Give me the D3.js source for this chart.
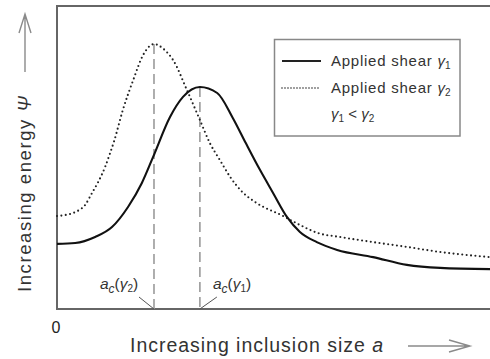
<!DOCTYPE html>
<html>
<head>
<meta charset="utf-8">
<script src="https://cdn.jsdelivr.net/npm/d3@7"></script>
<style>
  html, body { margin: 0; padding: 0; background: #fff; }
  svg { display: block; font-family: "Liberation Sans", Arial, sans-serif; }
</style>
</head>
<body>
<svg id="chart" width="490" height="359"></svg>
<script>
// Inclusion size a (relative units) and energy Ψ (relative units)
const shear1A   = [0, 4.2, 8.8, 12.7, 16.4, 19.6, 22.2, 26.1, 29.1, 33.0, 37.0, 40.6, 43.6, 46.9, 49.9, 53.1, 56.1, 60.0, 64.7, 73.0, 80.8, 88.5, 100];
const shear1Psi = [21.7, 22.0, 24.0, 27.3, 34.0, 42.0, 50.7, 64.0, 70.7, 74.0, 72.0, 63.7, 55.3, 46.3, 38.7, 30.7, 25.7, 22.3, 19.7, 17.3, 14.7, 13.7, 13.3];

const shear2A   = [0, 1.8, 4.2, 6.5, 8.1, 9.5, 11.1, 12.2, 13.2, 15.2, 17.6, 19.9, 22.4, 24.9, 26.8, 30.0, 33.0, 35.3, 37.6, 40.0, 43.0, 45.7, 52.2, 56.1, 60.3, 65.4, 73.0, 80.8, 88.5, 100];
const shear2Psi = [31.0, 31.3, 32.3, 34.7, 38.7, 42.3, 47.3, 51.7, 56.0, 66.3, 76.3, 84.7, 88.3, 86.3, 83.0, 73.0, 63.0, 55.3, 49.7, 44.0, 38.7, 35.7, 31.0, 28.0, 25.3, 24.0, 22.3, 20.7, 19.0, 17.3];

// Critical sizes (peak positions) for each applied shear
const criticalNames = ["γ1", "γ2"];
const criticalA     = [33.0, 22.4];
const criticalPsi   = [74.0, 88.3];

const svg = d3.select("#chart");

const x = d3.scaleLinear().domain([0, 100]).range([57, 490]);
const y = d3.scaleLinear().domain([0, 100]).range([309, 9]);
const yTop = 6;

const ink = "#222";
const frame = "#666";

// Open frame: top, left and bottom edges
svg.append("path")
  .attr("d", d3.line()([[x.range()[1], yTop], [x(0), yTop], [x(0), y(0)], [x.range()[1], y(0)]]))
  .attr("fill", "none").attr("stroke", frame).attr("stroke-width", 2);

// Critical-size markers
criticalA.forEach((a, i) => {
  svg.append("line")
    .attr("x1", x(a)).attr("x2", x(a))
    .attr("y1", y(criticalPsi[i])).attr("y2", y(0))
    .attr("stroke", "#9a9a9a").attr("stroke-width", 1.6)
    .attr("stroke-dasharray", "10,5");
});

const line = d3.line()
  .x(d => x(d[0])).y(d => y(d[1]))
  .curve(d3.curveMonotoneX);

svg.append("path")
  .datum(shear2A.map((a, i) => [a, shear2Psi[i]]))
  .attr("d", line)
  .attr("fill", "none").attr("stroke", ink).attr("stroke-width", 2.1)
  .attr("stroke-linecap", "round").attr("stroke-dasharray", "0,4.4");

svg.append("path")
  .datum(shear1A.map((a, i) => [a, shear1Psi[i]]))
  .attr("d", line)
  .attr("fill", "none").attr("stroke", "#111").attr("stroke-width", 2.1);

// Leader lines and labels for a_c(γ)
const labelOffsets = { "γ2": { tx: -54, lx: -15 }, "γ1": { tx: 13, lx: 17 } };
criticalA.forEach((a, i) => {
  const name = criticalNames[i];
  const off = labelOffsets[name];
  const bx = x(a);
  svg.append("line")
    .attr("x1", bx + off.lx).attr("y1", y(0) - 12)
    .attr("x2", bx).attr("y2", y(0))
    .attr("stroke", "#555").attr("stroke-width", 1);
  const t = svg.append("text")
    .attr("x", bx + off.tx).attr("y", 289)
    .attr("fill", "#333").attr("font-size", 15.5);
  t.append("tspan").attr("font-style", "italic").text("a");
  t.append("tspan").attr("font-style", "italic").attr("font-size", 12).attr("dy", 4).text("c");
  t.append("tspan").attr("dy", -4).text("(");
  t.append("tspan").attr("font-style", "italic").text("γ");
  t.append("tspan").attr("font-size", 10).attr("dy", 3).text(name.slice(1));
  t.append("tspan").attr("dy", -3).text(")");
});

// Origin label
svg.append("text")
  .attr("x", x(0) - 1).attr("y", 333)
  .attr("text-anchor", "middle")
  .attr("fill", "#222").attr("font-size", 16).text("0");

// Axis titles
svg.append("text")
  .attr("x", 130).attr("y", 352)
  .attr("textLength", 253).attr("lengthAdjust", "spacing")
  .attr("fill", "#333").attr("font-size", 19.5)
  .html('Increasing inclusion size <tspan font-style="italic">a</tspan>');

svg.append("text")
  .attr("transform", "translate(31,292) rotate(-90)")
  .attr("textLength", 196).attr("lengthAdjust", "spacing")
  .attr("fill", "#333").attr("font-size", 18.5)
  .html('Increasing energy <tspan font-style="italic">Ψ</tspan>');

// Direction arrows
const arrowGray = "#8a8a8a";
svg.append("path")
  .attr("d", "M25,72 L25,14 M19,33 L25,14 L31,33")
  .attr("fill", "none").attr("stroke", arrowGray).attr("stroke-width", 1.4);
svg.append("path")
  .attr("d", "M408,346 L470,346 M449,340 L470,346 L449,352")
  .attr("fill", "none").attr("stroke", arrowGray).attr("stroke-width", 1.4);

// Legend
const legend = svg.append("g");
legend.append("rect")
  .attr("x", 274.5).attr("y", 39.5).attr("width", 185.5).attr("height", 96.5)
  .attr("fill", "#fff").attr("stroke", "#888").attr("stroke-width", 1.5);

const legendRows = [
  { label: "Applied shear ", sub: "1", dash: null, yy: 65.5 },
  { label: "Applied shear ", sub: "2", dash: "0,3", yy: 92.5 }
];
legendRows.forEach(r => {
  legend.append("line")
    .attr("x1", 282).attr("x2", 321).attr("y1", r.yy - 4.5).attr("y2", r.yy - 4.5)
    .attr("stroke", ink)
    .attr("stroke-width", r.dash ? 1.6 : 2)
    .attr("stroke-linecap", r.dash ? "round" : "butt")
    .attr("stroke-dasharray", r.dash);
  const t = legend.append("text")
    .attr("x", 331).attr("y", r.yy)
    .attr("fill", "#333").attr("font-size", 15).attr("letter-spacing", 0.75);
  t.append("tspan").text(r.label);
  t.append("tspan").attr("font-style", "italic").attr("letter-spacing", 0).text("γ");
  t.append("tspan").attr("font-size", 10).attr("dy", 3).attr("letter-spacing", 0).text(r.sub);
});

const ineq = legend.append("text")
  .attr("x", 331).attr("y", 119)
  .attr("fill", "#333").attr("font-size", 15);
ineq.append("tspan").attr("font-style", "italic").text("γ");
ineq.append("tspan").attr("font-size", 10).attr("dy", 3).text("1");
ineq.append("tspan").attr("dy", -3).text(" < ");
ineq.append("tspan").attr("font-style", "italic").text("γ");
ineq.append("tspan").attr("font-size", 10).attr("dy", 3).text("2");
</script>
</body>
</html>
